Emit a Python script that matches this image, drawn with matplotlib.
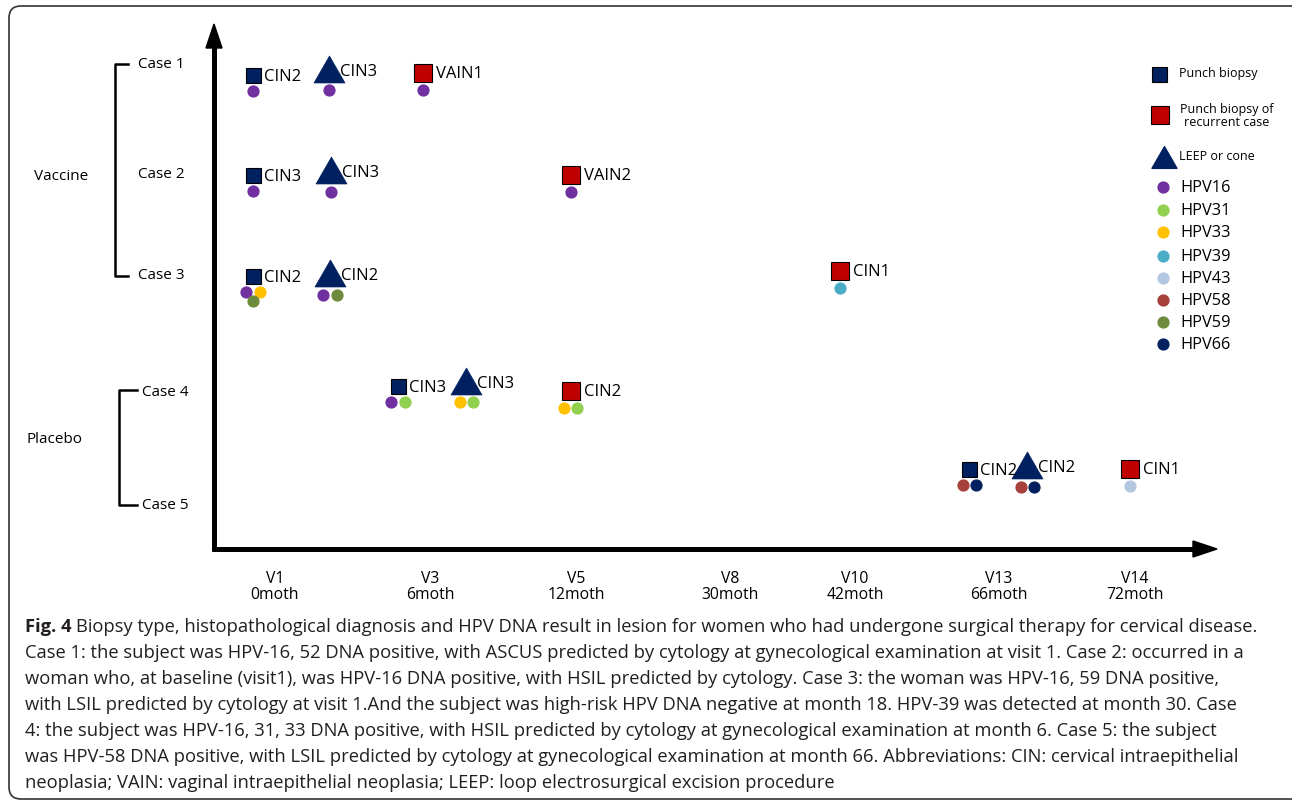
import matplotlib
matplotlib.use('Agg')
import matplotlib.pyplot as plt
from matplotlib.patches import FancyBboxPatch, Polygon
from matplotlib.path import Path
from matplotlib.transforms import ScaledTranslation

W, H = 1292, 803

# timeline (x axis)
visits = ['V1', 'V3', 'V5', 'V8', 'V10', 'V13', 'V14']
months = [0, 6, 12, 30, 42, 66, 72]
visit_pos = [0, 1.07, 2.08, 3.14, 4.0, 4.99, 5.93]

groups = ['Vaccine', 'Placebo']
cases = ['Case 1', 'Case 2', 'Case 3', 'Case 4', 'Case 5']

hpv_types = ['HPV16', 'HPV31', 'HPV33', 'HPV39', 'HPV43', 'HPV58', 'HPV59', 'HPV66']
hpv_colors = ['#7030A0', '#92D050', '#FFC000', '#4BACC6', '#B4C7E1',
              '#A5403A', '#6E8B3D', '#002060']

# one entry per biopsy / surgery
event_x = [-0.15, 0.37, 1.02,
           -0.15, 0.39, 2.04,
           -0.15, 0.38, 3.90,
           0.85, 1.32, 2.04,
           4.79, 5.19, 5.90]
event_y = [4.745, 4.805, 4.76,
           3.74, 3.79, 3.74,
           2.73, 2.76, 2.78,
           1.63, 1.685, 1.58,
           0.80, 0.84, 0.80]
event_kind = ['punch', 'leep', 'recurrent'] * 5
event_dx = ['CIN2', 'CIN3', 'VAIN1',
            'CIN3', 'CIN3', 'VAIN2',
            'CIN2', 'CIN2', 'CIN1',
            'CIN3', 'CIN3', 'CIN2',
            'CIN2', 'CIN2', 'CIN1']
event_hpv = [['HPV16'], ['HPV16'], ['HPV16'],
             ['HPV16'], ['HPV16'], ['HPV16'],
             ['HPV16', 'HPV33', 'HPV59'], ['HPV16', 'HPV59'], ['HPV39'],
             ['HPV16', 'HPV31'], ['HPV33', 'HPV31'], ['HPV33', 'HPV31'],
             ['HPV58', 'HPV66'], ['HPV58', 'HPV66'], ['HPV43']]

NAVY = '#002060'
RED = '#C00000'
plt.rcParams['font.family'] = ['Open Sans', 'DejaVu Sans']

tri = Path([(0, 0.87), (-1, -0.87), (1, -0.87), (0, 0.87)],
           [Path.MOVETO, Path.LINETO, Path.LINETO, Path.CLOSEPOLY])

styles = {
    'punch': dict(marker='s', ms=10.8, mfc=NAVY, mec='black', mew=0.8),
    'recurrent': dict(marker='s', ms=13, mfc=RED, mec='black', mew=0.8),
    'leep': dict(marker=tri, ms=22.3, mfc=NAVY, mec=NAVY, mew=0.5),
}
# pixel offsets: dot row below marker, label to the right
dot_drop = {'punch': 16, 'recurrent': 17, 'leep': 21.5}
lab_off = {'punch': (10.5, -1.5), 'recurrent': (13, 0), 'leep': (11, -2.5)}

fig = plt.figure(figsize=(W / 100, H / 100), dpi=100)

lay = fig.add_axes([0, 0, 1, 1])
lay.set_xlim(0, W)
lay.set_ylim(H, 0)
lay.axis('off')

ax = fig.add_axes([212 / W, 1 - 550 / H, (1216 - 212) / W, (550 - 26) / H])
ax.set_xlim(-0.434, 6.49)
ax.set_ylim(0, 5.24)
ax.patch.set_alpha(0)
for s in ax.spines.values():
    s.set_visible(False)
ax.set_yticks([])
ax.set_xticks(visit_pos)
ax.set_xticklabels([f'{v}\n{m}moth' for v, m in zip(visits, months)],
                   fontsize=11.3, linespacing=1.0)
ax.tick_params(axis='x', length=0, pad=15)


def off(dx, dy):
    return ax.transData + ScaledTranslation(dx / 100, dy / 100, fig.dpi_scale_trans)


for x, y, kind, dx, hpv in zip(event_x, event_y, event_kind, event_dx, event_hpv):
    ax.plot([x], [y], linestyle='none', **styles[kind], zorder=3)
    lx, ly = lab_off[kind]
    ax.text(x, y, dx, transform=off(lx, ly), fontsize=12, ha='left', va='center', zorder=4)
    drop = dot_drop[kind]
    top = hpv[:2]
    n = len(top)
    for i, h in enumerate(top):
        ddx = (i - (n - 1) / 2) * 13.5
        ax.plot([x], [y], 'o', ms=7.8, color=hpv_colors[hpv_types.index(h)],
                transform=off(ddx, -drop), zorder=3)
    for h in hpv[2:]:
        ax.plot([x], [y], 'o', ms=7.8, color=hpv_colors[hpv_types.index(h)],
                transform=off(0, -drop - 9), zorder=3)

# axis arrows
lay.plot([214, 214], [552, 48], color='black', lw=3.6, solid_capstyle='butt')
lay.add_patch(Polygon([(206, 49), (222, 49), (214, 25)], closed=True, color='black'))
lay.plot([212, 1194], [550, 550], color='black', lw=3.6, solid_capstyle='butt')
lay.add_patch(Polygon([(1193, 542), (1193, 558), (1217, 550)], closed=True, color='black'))

# outer rounded frame (right side runs past the image edge)
lay.add_patch(FancyBboxPatch((9, 7), 1310, 793, boxstyle='round,pad=0,rounding_size=12',
                             fc='none', ec='#333333', lw=1.2))

# group brackets
lay.plot([128, 115, 115, 128], [65, 65, 277, 277], color='black', lw=1.8)
lay.plot([137, 119, 119, 137], [391, 391, 506, 506], color='black', lw=1.8)
case_lab_xy = [(138, 64), (138, 174), (138, 276), (142, 393), (142, 506)]
for c, (cx, cy) in zip(cases, case_lab_xy):
    lay.text(cx, cy, c, fontsize=11, ha='left', va='center')
lay.text(34, 177, groups[0], fontsize=11, ha='left', va='center')
lay.text(27, 440, groups[1], fontsize=11, ha='left', va='center')

# legend
lay.plot([1159], [75], **styles['punch'])
lay.text(1179, 73, 'Punch biopsy', fontsize=9, ha='left', va='center')
lay.plot([1160], [116], **styles['recurrent'])
lay.text(1227, 116, 'Punch biopsy of\nrecurrent case', fontsize=9, ha='center', va='center',
         linespacing=1.0)
lay.plot([1163.5], [157.5], marker=tri, ms=18, mfc=NAVY, mec=NAVY, linestyle='none')
lay.text(1179, 157, 'LEEP or cone', fontsize=9, ha='left', va='center')
leg_y = [188, 211, 233, 257, 279, 301, 323, 345]
for t, c, yy in zip(hpv_types, hpv_colors, leg_y):
    lay.plot([1163], [yy], 'o', ms=7.8, color=c)
    lay.text(1180, yy, t, fontsize=11.8, ha='left', va='center')

# caption
cap_lines = [
    'Case 1: the subject was HPV-16, 52 DNA positive, with ASCUS predicted by cytology at gynecological examination at visit 1. Case 2: occurred in a',
    'woman who, at baseline (visit1), was HPV-16 DNA positive, with HSIL predicted by cytology. Case 3: the woman was HPV-16, 59 DNA positive,',
    'with LSIL predicted by cytology at visit 1.And the subject was high-risk HPV DNA negative at month 18. HPV-39 was detected at month 30. Case',
    '4: the subject was HPV-16, 31, 33 DNA positive, with HSIL predicted by cytology at gynecological examination at month 6. Case 5: the subject',
    'was HPV-58 DNA positive, with LSIL predicted by cytology at gynecological examination at month 66. Abbreviations: CIN: cervical intraepithelial',
    'neoplasia; VAIN: vaginal intraepithelial neoplasia; LEEP: loop electrosurgical excision procedure',
]
CAP_SIZE = 13.28
CAP_COL = '#231F20'
t0 = lay.text(25, 627, 'Fig. 4', fontsize=CAP_SIZE, fontweight='bold',
              ha='left', va='center', color=CAP_COL)
fig.canvas.draw()
bb = t0.get_window_extent()
lay.text(bb.x1 + 5, 627,
         'Biopsy type, histopathological diagnosis and HPV DNA result in lesion for women who had undergone surgical therapy for cervical disease.',
         fontsize=CAP_SIZE, ha='left', va='center', color=CAP_COL)
for i, line in enumerate(cap_lines):
    lay.text(25, 653 + 26 * i, line, fontsize=CAP_SIZE,
             ha='left', va='center', color=CAP_COL)

fig.savefig('out.png', dpi=100)
